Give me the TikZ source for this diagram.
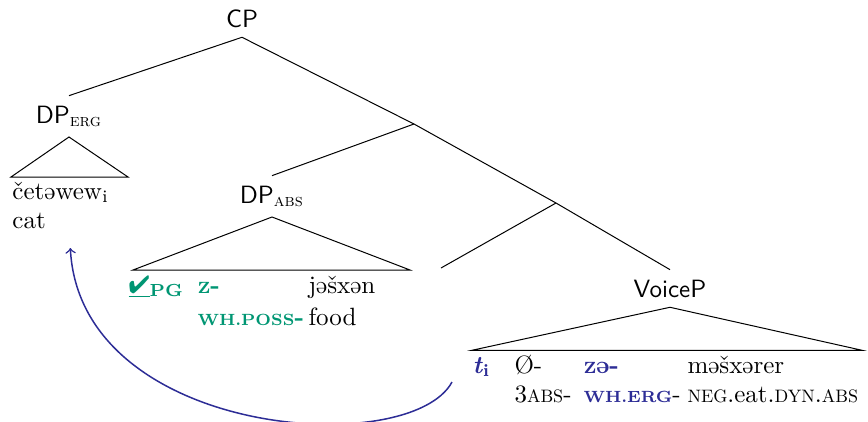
\documentclass[tikz,border=0pt]{standalone}
\usepackage{fontspec}
\usepackage{graphicx}
\usepackage{pifont}
\definecolor{pgreen}{RGB}{0,150,115}
\definecolor{wblue}{RGB}{45,45,150}
\newcommand\bsc[1]{{\bfseries\fontsize{6.5pt}{8pt}\selectfont\addfontfeature{LetterSpace=6}#1}}
\newcommand\sca[1]{\scalebox{0.72}{#1}}
\tikzset{
  phrase/.style={font=\sffamily,inner sep=4pt,outer sep=0pt},
  gloss/.style={anchor=base west,inner sep=0pt},
  move/.style={->,semithick,draw=wblue},
}
\begin{document}
\begin{tikzpicture}[x=0.4pt,y=-0.4pt]
  \useasboundingbox (0,0) rectangle (868,421);
  % phrase labels
  \node[phrase,anchor=base] (cp) at (242,27) {CP};
  \node[phrase,anchor=base] (dperg) at (69,123) {DP\textsubscript{\rmfamily\scshape erg}};
  \node[phrase,anchor=base] (dpabs) at (272,203) {DP\textsubscript{\rmfamily\scshape abs}};
  \node[phrase,anchor=base] (voicep) at (670,297) {VoiceP};
  \coordinate (b1) at (414,124);
  \coordinate (b2) at (556,203);
  \coordinate (c) at (441,268);
  % branches
  \draw (cp.south) -- (dperg.north);
  \draw (cp.south) -- (b1) -- (b2) -- (voicep.north);
  \draw (b1) -- (dpabs.north);
  \draw (b2) -- (c);
  % roofs
  \draw (dperg.south) -- ++(-58,40) -- ++(117,0) -- cycle;
  \draw (dpabs.south) -- ++(-139,53) -- ++(277,0) -- cycle;
  \draw (voicep.south) -- ++(-198,43) -- ++(390,0) -- cycle;
  % words and glosses
  \node[gloss] (cet) at (12,199) {četəwew\textsubscript{i}};
  \node[gloss] (cat) at (12,228) {cat};
  \node[gloss,text=pgreen] (pg) at (128,293) {\underline{\ding{52}}\textsubscript{\bfseries PG}};
  \node[gloss,text=pgreen] (z) at (197,293) {\bsc{Z}\textbf{-}};
  \node[gloss] (jes) at (308,293) {jəšxən};
  \node[gloss,text=pgreen] (whposs) at (197,325) {\bsc{WH.POSS}\textbf{-}};
  \node[gloss] (food) at (308,325) {food};
  \node[gloss,text=wblue] (trc) at (472,373) {\textbf{\textit{t}}\textsubscript{\bfseries i}};
  \node[gloss] (nul) at (514,373) {Ø-};
  \node[gloss,text=wblue] (ze) at (583,373) {\bsc{Z}\textbf{ə-}};
  \node[gloss] (eat) at (687,373) {məšxərer};
  \node[gloss] (abs) at (514,402) {3\sca{ABS}-};
  \node[gloss] (wherg) at (583,402) {\textcolor{wblue}{\bsc{WH.ERG}}-};
  \node[gloss] (negeat) at (687,402) {\sca{NEG}.eat.\sca{DYN}.\sca{ABS}};
  % movement
  \draw[move] ([shift={(-20,9)}]trc.base west) .. controls +(-42,78) and +(10,190) .. ([shift={(24,20)}]cat.base east);
\end{tikzpicture}
\end{document}
